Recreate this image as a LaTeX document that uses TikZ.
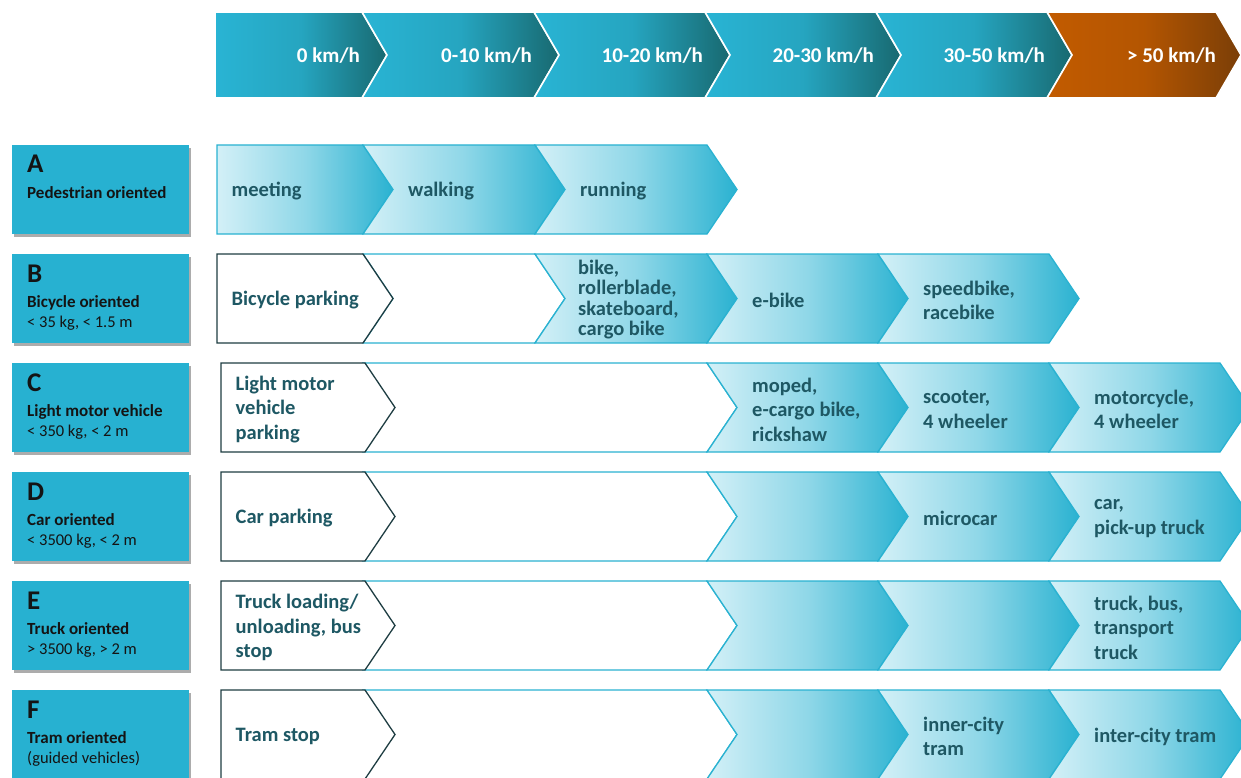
\documentclass[tikz,border=0pt]{standalone}
\usepackage{fontspec}
\setmainfont{Carlito}
\usepackage{tikz}
\usetikzlibrary{shadows}

\definecolor{catblue}{HTML}{27B1D1}
\definecolor{hdrlight}{HTML}{29B4D4}
\definecolor{hdrdark}{HTML}{186970}
\definecolor{hotlight}{HTML}{C25B00}
\definecolor{hotdark}{HTML}{7A3E07}
\definecolor{chevlight}{HTML}{D3F0F7}
\definecolor{chevdark}{HTML}{2AB2D1}
\definecolor{chevtext}{HTML}{1E5864}
\definecolor{parkline}{HTML}{1E3D42}

\tikzset{
  catbox/.style={fill=catblue, anchor=north west, inner sep=0pt,
    minimum width=177pt, minimum height=89pt,
    drop shadow={opacity=.65, shadow xshift=1.5pt, shadow yshift=-3pt}},
  catletter/.style={anchor=base west, inner sep=0pt, text=black!92,
    font=\bfseries\fontsize{27}{30}\selectfont},
  cattitle/.style={anchor=base west, inner sep=0pt, text=black!92,
    font=\bfseries\fontsize{17}{20}\selectfont},
  catsub/.style={anchor=base west, inner sep=0pt, text=black!92,
    font=\fontsize{16.5}{20}\selectfont},
  hdrchev/.style={draw=white, line width=1.6pt,
    left color=hdrlight, right color=hdrdark, middle color=hdrlight!80!hdrdark},
  hotchev/.style={draw=white, line width=1.6pt,
    left color=hotlight, right color=hotdark, middle color=hotlight!80!hotdark},
  hdrlabel/.style={anchor=east, inner sep=0pt, text=white,
    font=\bfseries\fontsize{21}{24}\selectfont},
  modechev/.style={draw=chevdark, line width=1.3pt,
    left color=chevlight, right color=chevdark, middle color=chevlight!60!chevdark},
  gapchev/.style={draw=chevdark, line width=1.3pt, fill=white},
  parkchev/.style={draw=parkline, line width=1.3pt, fill=white},
  modelabel/.style={anchor=west, inner sep=0pt, align=left, text=chevtext,
    font=\bfseries\fontsize{20.5}{24.5}\selectfont},
}

% chevron with a flat left side, and one with a notch
\newcommand{\flatchev}[5]{%
  \path[#1] (#2,#4) -- (#3,#4) -- ++(\dep,#5/2) -- ++(-\dep,#5/2) -- (#2,#4+#5) -- cycle;}
\newcommand{\notchchev}[5]{%
  \path[#1] (#2,#4) -- (#3,#4) -- ++(\dep,#5/2) -- ++(-\dep,#5/2) -- (#2,#4+#5) -- ++(\dep,-#5/2) -- cycle;}
\newcommand{\parkcell}[6]{%
  \flatchev{#1}{#2}{#3}{#4}{89}
  \node[modelabel] (#5) at (#2+14.5,#4+46.5) {#6};}
\newcommand{\modecell}[6]{%
  \notchchev{#1}{#2}{#3}{#4}{89}
  \node[modelabel] (#5) at (#2+45,#4+46.5) {#6};}

\begin{document}
\begin{tikzpicture}[x=1pt, y=-1pt]
  \useasboundingbox (0,0) rectangle (1241,778);
  \clip (0,0) rectangle (1241,778);

  % speed scale
  \def\dep{25}
  \flatchev{hdrchev}{215}{362}{12}{86}
  \notchchev{hdrchev}{362}{534}{12}{86}
  \notchchev{hdrchev}{534}{705}{12}{86}
  \notchchev{hdrchev}{705}{876}{12}{86}
  \notchchev{hdrchev}{876}{1047}{12}{86}
  \notchchev{hotchev}{1047}{1216}{12}{86}
  \node[hdrlabel] (kmh0) at (360,56) {0 km/h};
  \node[hdrlabel] (kmh10) at (532,56) {0-10 km/h};
  \node[hdrlabel] (kmh20) at (703,56) {10-20 km/h};
  \node[hdrlabel] (kmh30) at (874,56) {20-30 km/h};
  \node[hdrlabel] (kmh50) at (1045,56) {30-50 km/h};
  \node[hdrlabel] (kmhmax) at (1216,56) {> 50 km/h};

  % categories
  \foreach \ltr/\ttl/\sub [count=\n from 0] in {A/Pedestrian oriented/{},
      B/Bicycle oriented/{< 35 kg, < 1.5 m}, C/Light motor vehicle/{< 350 kg, < 2 m},
      D/Car oriented/{< 3500 kg, < 2 m}, E/Truck oriented/{> 3500 kg, > 2 m},
      F/Tram oriented/{(guided vehicles)}}{
    \pgfmathsetmacro\ytop{145+109*\n}
    \node[catbox] (cat\ltr) at (12,\ytop) {};
    \node[catletter] (let\ltr) at (27,\ytop+28) {\ltr};
    \node[cattitle] (ttl\ltr) at (27,\ytop+53) {\ttl};
    \node[catsub] (sub\ltr) at (27,\ytop+73) {\sub};
  }

  \def\dep{30}
  % A
  \parkcell{modechev}{217}{363}{145}{meeting}{meeting}
  \modecell{modechev}{363}{535}{145}{walking}{walking}
  \modecell{modechev}{535}{707}{145}{running}{running}
  % B
  \notchchev{gapchev}{363}{535}{254}{89}
  \parkcell{parkchev}{217}{363}{254}{bikePark}{Bicycle parking}
  \notchchev{modechev}{535}{707}{254}{89}
  \node[modelabel, font=\bfseries\fontsize{20.5}{20.4}\selectfont] (bike) at (578,299.5)
    {bike,\\rollerblade,\\skateboard,\\cargo bike};
  \modecell{modechev}{707}{878}{254}{ebike}{e-bike}
  \modecell{modechev}{878}{1049}{254}{speedbike}{speedbike,\\racebike}
  % C
  \notchchev{gapchev}{363}{707}{363}{89}
  \parkcell{parkchev}{221}{365}{363}{lmvPark}{Light motor\\vehicle\\parking}
  \modecell{modechev}{707}{878}{363}{moped}{moped,\\e-cargo bike,\\rickshaw}
  \modecell{modechev}{878}{1049}{363}{scooter}{scooter,\\4 wheeler}
  \modecell{modechev}{1049}{1220}{363}{motorcycle}{motorcycle,\\4 wheeler}
  % D
  \notchchev{gapchev}{363}{707}{472}{89}
  \parkcell{parkchev}{221}{365}{472}{carPark}{Car parking}
  \notchchev{modechev}{707}{878}{472}{89}
  \modecell{modechev}{878}{1049}{472}{microcar}{microcar}
  \modecell{modechev}{1049}{1220}{472}{car}{car,\\pick-up truck}
  % E
  \notchchev{gapchev}{363}{707}{581}{89}
  \parkcell{parkchev}{221}{365}{581}{truckPark}{Truck loading/\\unloading, bus\\stop}
  \notchchev{modechev}{707}{878}{581}{89}
  \notchchev{modechev}{878}{1049}{581}{89}
  \modecell{modechev}{1049}{1220}{581}{truck}{truck, bus,\\transport\\truck}
  % F
  \notchchev{gapchev}{363}{707}{690}{89}
  \parkcell{parkchev}{221}{365}{690}{tramStop}{Tram stop}
  \notchchev{modechev}{707}{878}{690}{89}
  \modecell{modechev}{878}{1049}{690}{innerTram}{inner-city\\tram}
  \modecell{modechev}{1049}{1220}{690}{interTram}{inter-city tram}
\end{tikzpicture}
\end{document}
